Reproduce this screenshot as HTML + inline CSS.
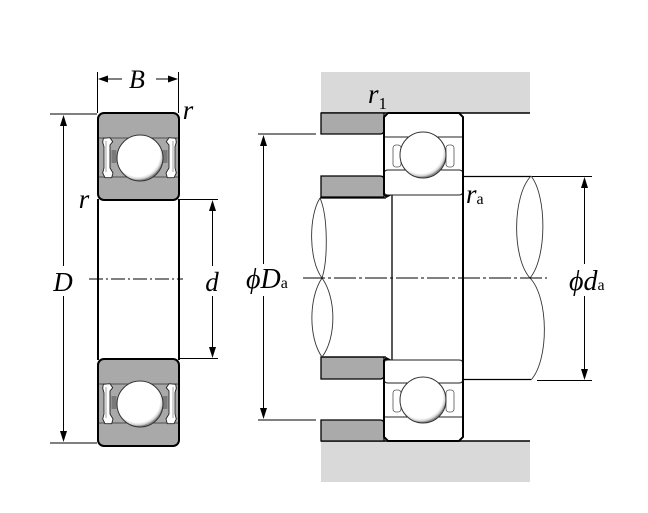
<!DOCTYPE html>
<html><head><meta charset="utf-8"><style>
html,body{margin:0;padding:0;background:#fff;}
svg{display:block;}
text{font-family:"Liberation Serif","DejaVu Serif",serif;fill:#000;}
.it{font-style:italic;}
</style></head><body>
<svg width="648" height="513" viewBox="0 0 648 513" xmlns="http://www.w3.org/2000/svg">
<defs>
<radialGradient id="ball" cx="45%" cy="42%" r="56%">
<stop offset="0" stop-color="#fff"/><stop offset="0.86" stop-color="#fff"/><stop offset="0.96" stop-color="#d0d0d0"/><stop offset="1" stop-color="#8a8a8a"/>
</radialGradient>
<g id="seal">
<path d="M103.3,138.3 L110,137.7 L112.7,141.7 L110,145 L110,168 L113,173 L111.7,177.7 L105,177.7 L102.7,173 L104,168 L104,146.7 L102.7,142.3 Z" fill="#fff" stroke="#222" stroke-width="0.9"/>
<path d="M106,141 L106,172" stroke="#666" stroke-width="0.6" fill="none"/>
<rect x="111.5" y="150" width="5" height="13" fill="#7a7a7a"/>
</g>
<g id="lsec">
<rect x="98" y="113" width="81" height="87" rx="6" fill="#a9a9a9" stroke="#000" stroke-width="2"/>
<line x1="99" y1="138" x2="178" y2="138" stroke="#333" stroke-width="0.8"/>
<line x1="99" y1="177" x2="178" y2="177" stroke="#333" stroke-width="0.8"/>
<use href="#seal"/>
<g transform="translate(279,0) scale(-1,1)"><use href="#seal"/></g>
<circle cx="140" cy="158" r="23" fill="url(#ball)" stroke="#333" stroke-width="1"/>
</g>
<g id="rsec">
<rect x="393" y="145" width="8" height="22" rx="3" fill="#fff" stroke="#555" stroke-width="0.8"/>
<rect x="446" y="145" width="8" height="22" rx="3" fill="#fff" stroke="#555" stroke-width="0.8"/>
<circle cx="423" cy="155" r="23" fill="url(#ball)" stroke="#333" stroke-width="1"/>
</g>
</defs>

<!-- ===== LEFT BEARING ===== -->
<use href="#lsec"/>
<use href="#lsec" transform="translate(0,246)"/>
<line x1="98" y1="199" x2="98" y2="360" stroke="#000" stroke-width="2"/>
<line x1="179" y1="199" x2="179" y2="360" stroke="#000" stroke-width="2"/>

<!-- B dimension -->
<line x1="97.5" y1="72" x2="97.5" y2="113" stroke="#000" stroke-width="1"/>
<line x1="178.5" y1="72" x2="178.5" y2="113" stroke="#000" stroke-width="1"/>
<line x1="100" y1="79" x2="122" y2="79" stroke="#000" stroke-width="1"/>
<line x1="156" y1="79" x2="177" y2="79" stroke="#000" stroke-width="1"/>
<polygon points="98,79 108,75.5 108,82.5" fill="#000"/>
<polygon points="178,79 168,75.5 168,82.5" fill="#000"/>
<text x="137" y="88" font-size="26" class="it" text-anchor="middle">B</text>
<text x="188" y="119" font-size="27" class="it" text-anchor="middle">r</text>
<text x="84" y="208" font-size="27" class="it" text-anchor="middle">r</text>

<!-- D dimension -->
<line x1="50" y1="114" x2="97" y2="114" stroke="#000" stroke-width="1"/>
<line x1="50" y1="443" x2="97" y2="443" stroke="#000" stroke-width="1"/>
<line x1="63.5" y1="120" x2="63.5" y2="266" stroke="#000" stroke-width="1"/>
<line x1="63.5" y1="296" x2="63.5" y2="438" stroke="#000" stroke-width="1"/>
<polygon points="63.5,115 60,126 67,126" fill="#000"/>
<polygon points="63.5,442 60,431 67,431" fill="#000"/>
<text x="63" y="291" font-size="27" class="it" text-anchor="middle">D</text>

<!-- d dimension -->
<line x1="179" y1="199.5" x2="218" y2="199.5" stroke="#000" stroke-width="1"/>
<line x1="179" y1="358.5" x2="218" y2="358.5" stroke="#000" stroke-width="1"/>
<line x1="212.5" y1="205" x2="212.5" y2="266" stroke="#000" stroke-width="1"/>
<line x1="212.5" y1="296" x2="212.5" y2="353" stroke="#000" stroke-width="1"/>
<polygon points="212.5,200 209,211 216,211" fill="#000"/>
<polygon points="212.5,358 209,347 216,347" fill="#000"/>
<text x="212" y="291" font-size="27" class="it" text-anchor="middle">d</text>

<!-- left centerline -->
<line x1="89" y1="279" x2="183" y2="279" stroke="#000" stroke-width="1" stroke-dasharray="14,3,2,3"/>

<!-- ===== RIGHT DIAGRAM ===== -->
<rect x="321" y="72" width="209" height="41" fill="#d9d9d9"/>
<rect x="321" y="441" width="209" height="41" fill="#d9d9d9"/>
<line x1="321" y1="113" x2="530" y2="113" stroke="#000" stroke-width="1.5"/>
<line x1="321" y1="441" x2="530" y2="441" stroke="#000" stroke-width="1.5"/>

<path d="M321,113 L384,113 L384,130 Q384,134 380,134 L321,134 Z" fill="#aaaaaa" stroke="#000" stroke-width="1.3"/>
<path d="M321,176 L380,176 Q384,176 384,180 L384,197 L321,197 Z" fill="#aaaaaa" stroke="#000" stroke-width="1.3"/>
<path d="M321,357 L384,357 L384,375 Q384,379 380,379 L321,379 Z" fill="#aaaaaa" stroke="#000" stroke-width="1.3"/>
<path d="M321,420 L380,420 Q384,420 384,424 L384,441 L321,441 Z" fill="#aaaaaa" stroke="#000" stroke-width="1.3"/>

<!-- left shaft -->
<line x1="320" y1="198" x2="386" y2="198" stroke="#000" stroke-width="1.3"/>
<line x1="322" y1="357" x2="386" y2="357" stroke="#000" stroke-width="1.3"/>
<path d="M320,198 C308.5,216 308.5,260 322,278" fill="none" stroke="#333" stroke-width="0.9"/>
<path d="M320,198 C328,216 328,260 322,278" fill="none" stroke="#333" stroke-width="0.9"/>
<path d="M322,278 C308.5,298 308.5,338 322,357" fill="none" stroke="#333" stroke-width="0.9"/>
<path d="M322,278 C336.5,298 336.5,338 322,357" fill="none" stroke="#333" stroke-width="0.9"/>
<line x1="392" y1="195" x2="392" y2="360" stroke="#000" stroke-width="1.3"/>
<polygon points="384,195 392,195 386,198" fill="#000"/>
<polygon points="384,360 392,360 386,357" fill="#000"/>

<!-- right shaft -->
<line x1="463" y1="176.5" x2="531" y2="176.5" stroke="#000" stroke-width="1.3"/>
<line x1="463" y1="379.5" x2="531" y2="379.5" stroke="#000" stroke-width="1.3"/>
<path d="M531,176 C512,196 512,258 530,278" fill="none" stroke="#333" stroke-width="0.9"/>
<path d="M531,176 C547,196 547,258 530,278" fill="none" stroke="#333" stroke-width="0.9"/>
<path d="M530,278 C549,298 549,360 531,380" fill="none" stroke="#333" stroke-width="0.9"/>

<!-- bearing (right) -->
<path d="M384,117 L388,113 L459,113 L463,117 L463,195 L384,195 Z" fill="#fff"/>
<path d="M384,360 L463,360 L463,437 L459,441 L388,441 L384,437 Z" fill="#fff"/>
<line x1="384" y1="137" x2="463" y2="137" stroke="#222" stroke-width="1"/>
<path d="M384,174 Q384,170 388,170 L459,170 Q463,170 463,174" fill="none" stroke="#222" stroke-width="1"/>
<path d="M384,191 Q384,195 388,195 L459,195 Q463,195 463,191" fill="none" stroke="#222" stroke-width="1"/>
<path d="M384,364 Q384,360 388,360 L459,360 Q463,360 463,364" fill="none" stroke="#222" stroke-width="1"/>
<path d="M384,379 Q384,383 388,383 L459,383 Q463,383 463,379" fill="none" stroke="#222" stroke-width="1"/>
<line x1="384" y1="417" x2="463" y2="417" stroke="#222" stroke-width="1"/>
<use href="#rsec"/>
<use href="#rsec" transform="translate(0,245)"/>
<polyline points="384,195 384,117 388,113 459,113 463,117 463,437 459,441 388,441 384,437 384,360" fill="none" stroke="#000" stroke-width="2"/>

<!-- Da dimension -->
<line x1="258" y1="134" x2="316" y2="134" stroke="#000" stroke-width="1"/>
<line x1="258" y1="420" x2="316" y2="420" stroke="#000" stroke-width="1"/>
<line x1="263.5" y1="140" x2="263.5" y2="264" stroke="#000" stroke-width="1"/>
<line x1="263.5" y1="296" x2="263.5" y2="414" stroke="#000" stroke-width="1"/>
<polygon points="263.5,135 260,146 267,146" fill="#000"/>
<polygon points="263.5,419 260,408 267,408" fill="#000"/>
<text x="246" y="288" font-size="28"><tspan class="it">ϕD</tspan><tspan font-size="16">a</tspan></text>

<!-- da dimension -->
<line x1="532" y1="176.5" x2="592" y2="176.5" stroke="#000" stroke-width="1"/>
<line x1="537" y1="380.5" x2="592" y2="380.5" stroke="#000" stroke-width="1"/>
<line x1="584.5" y1="182" x2="584.5" y2="264" stroke="#000" stroke-width="1"/>
<line x1="584.5" y1="296" x2="584.5" y2="375" stroke="#000" stroke-width="1"/>
<polygon points="584.5,177 581,188 588,188" fill="#000"/>
<polygon points="584.5,380 581,369 588,369" fill="#000"/>
<text x="569" y="290" font-size="28"><tspan class="it">ϕd</tspan><tspan font-size="16">a</tspan></text>

<!-- r1, ra -->
<text x="368" y="103" font-size="27"><tspan class="it">r</tspan><tspan font-size="17" dy="6">1</tspan></text>
<text x="466" y="203" font-size="27"><tspan class="it">r</tspan><tspan font-size="16" dy="1">a</tspan></text>

<!-- right centerline -->
<line x1="303" y1="278" x2="547" y2="278" stroke="#000" stroke-width="1" stroke-dasharray="22,3,3,3"/>
</svg>
</body></html>
